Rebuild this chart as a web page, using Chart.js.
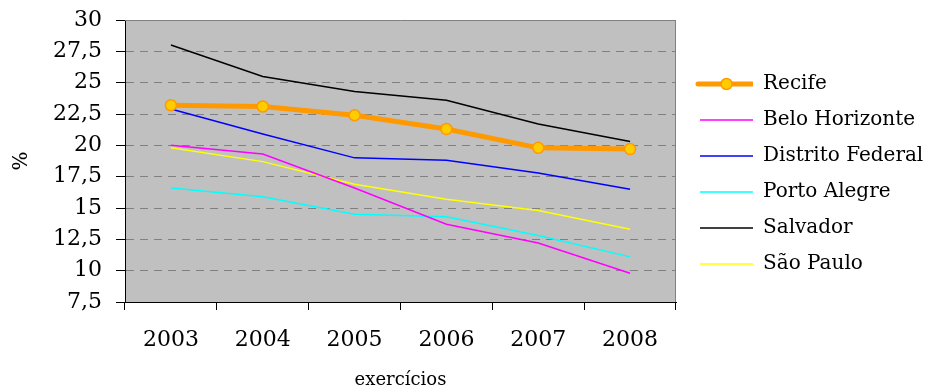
<!DOCTYPE html>
<html>
<head>
<meta charset="utf-8">
<script src="https://cdn.jsdelivr.net/npm/chart.js@4/dist/chart.umd.min.js"></script>
<style>
  html, body { margin: 0; padding: 0; background: #fff; }
  #wrap { width: 943px; height: 391px; position: relative; }
</style>
</head>
<body>
<div id="wrap"><canvas id="chart" width="943" height="391"></canvas></div>
<script>
// Years on the x axis
const years = ['2003', '2004', '2005', '2006', '2007', '2008'];

// Share (%) per city and year
const recife          = [23.2, 23.1, 22.4, 21.3, 19.8, 19.7];
const beloHorizonte   = [20.0, 19.3, 16.6, 13.7, 12.2, 9.8];
const distritoFederal = [22.9, 20.9, 19.0, 18.8, 17.8, 16.5];
const portoAlegre     = [16.6, 15.9, 14.5, 14.3, 12.8, 11.1];
const salvador        = [28.0, 25.5, 24.3, 23.6, 21.7, 20.3];
const saoPaulo        = [19.8, 18.7, 16.9, 15.7, 14.8, 13.3];

// Value axis ticks
const yTicks = [7.5, 10, 12.5, 15, 17.5, 20, 22.5, 25, 27.5, 30];

const FONT = '"DejaVu Serif", "Liberation Serif", serif';
Chart.defaults.font.family = FONT;
Chart.defaults.color = '#000';

const LEGEND_FONT = 20;
const LEGEND_PAD = 16;
const SWATCH_W = 61;
const PLOT_RIGHT = 676;
// Legend box width used for layout; its labels run on to the right edge
const LEGEND_BOX = 200;
const rightPad = 943 - PLOT_RIGHT - LEGEND_BOX;

// Small canvas swatches used as legend symbols
function makeSwatch(color, width, marker) {
  const c = document.createElement('canvas');
  c.width = SWATCH_W; c.height = 14;
  const g = c.getContext('2d');
  g.strokeStyle = color;
  g.lineWidth = width;
  g.lineCap = marker ? 'round' : 'butt';
  g.beginPath();
  g.moveTo(marker ? 6 : 8, 7);
  g.lineTo(marker ? SWATCH_W - 1 : SWATCH_W, 7);
  g.stroke();
  if (marker) {
    g.beginPath();
    g.arc(8 + 26.5, 7, 5.5, 0, Math.PI * 2);
    g.fillStyle = '#FFCC00';
    g.fill();
    g.lineWidth = 1.5;
    g.strokeStyle = '#FF9900';
    g.stroke();
  }
  return c;
}

const series = [
  { label: 'Recife', data: recife, color: '#FF9900', width: 5, marker: true },
  { label: 'Belo Horizonte', data: beloHorizonte, color: '#FF00FF', width: 1.5 },
  { label: 'Distrito Federal', data: distritoFederal, color: '#0000FF', width: 1.5 },
  { label: 'Porto Alegre', data: portoAlegre, color: '#00FFFF', width: 1.5 },
  { label: 'Salvador', data: salvador, color: '#000000', width: 1.5 },
  { label: 'São Paulo', data: saoPaulo, color: '#FFFF00', width: 1.5 }
];
const swatches = series.map(s => makeSwatch(s.color, s.width, s.marker));

// Grey plot background with a thin grey frame on top and right
const plotFrame = {
  id: 'plotFrame',
  afterLayout(chart) {
    // let the legend labels use the space up to the canvas edge
    const l = chart.legend;
    if (l) { l.right = chart.width; l.width = l.right - l.left; }
  },
  beforeDraw(chart) {
    const { ctx, chartArea: a } = chart;
    ctx.save();
    ctx.fillStyle = '#C0C0C0';
    ctx.fillRect(a.left, a.top, a.right - a.left, a.bottom - a.top);
    ctx.restore();
  },
  beforeDatasetsDraw(chart) {
    const { ctx, chartArea: a } = chart;
    ctx.save();
    ctx.strokeStyle = '#808080';
    ctx.lineWidth = 1;
    ctx.beginPath();
    ctx.moveTo(a.left, a.top + 0.5);
    ctx.lineTo(a.right - 0.5, a.top + 0.5);
    ctx.lineTo(a.right - 0.5, a.bottom);
    ctx.stroke();
    ctx.restore();
  }
};

new Chart(document.getElementById('chart'), {
  type: 'line',
  data: {
    labels: years,
    datasets: series.map(s => ({
      label: s.label,
      data: s.data,
      borderColor: s.color,
      backgroundColor: s.color,
      borderWidth: s.width,
      tension: 0,
      fill: false,
      pointRadius: s.marker ? 5.5 : 0,
      pointHoverRadius: s.marker ? 5.5 : 0,
      pointBackgroundColor: '#FFCC00',
      pointBorderColor: '#FF9900',
      pointBorderWidth: 1.5
    }))
  },
  options: {
    responsive: false,
    animation: false,
    events: [],
    layout: { padding: { top: 20, left: 0, bottom: 0, right: rightPad } },
    plugins: {
      tooltip: { enabled: false },
      legend: {
        position: 'right',
        align: 'start',
        maxWidth: LEGEND_BOX,
        title: { display: true, text: ' ', font: { size: 10, lineHeight: 1.2 }, padding: 13 },
        labels: {
          usePointStyle: true,
          pointStyleWidth: SWATCH_W,
          boxWidth: SWATCH_W,
          boxHeight: LEGEND_FONT,
          padding: LEGEND_PAD,
          color: '#000',
          font: { size: LEGEND_FONT, family: FONT },
          generateLabels: chart => chart.data.datasets.map((ds, i) => ({
            text: ds.label,
            pointStyle: swatches[i],
            fillStyle: ds.borderColor,
            strokeStyle: ds.borderColor,
            lineWidth: 0,
            hidden: false,
            datasetIndex: i
          }))
        }
      }
    },
    scales: {
      x: {
        type: 'category',
        offset: true,
        afterFit(scale) { scale.height = 89; },
        grid: {
          display: true,
          offset: true,
          drawOnChartArea: false,
          drawTicks: true,
          tickLength: 8,
          tickColor: '#000',
          color: '#000'
        },
        border: { display: true, color: '#000', width: 1 },
        ticks: { padding: 17, font: { size: 22 }, color: '#000', maxRotation: 0 },
        title: {
          display: true,
          text: 'exercícios',
          font: { size: 18, lineHeight: 1.2 },
          color: '#000',
          padding: { top: 0, bottom: 0 }
        }
      },
      y: {
        min: 7.5,
        max: 30,
        afterFit(scale) { scale.width = 125; },
        afterBuildTicks(scale) { scale.ticks = yTicks.map(v => ({ value: v })); },
        grid: {
          color: '#808080',
          lineWidth: 1,
          tickLength: 9,
          tickColor: '#000',
          tickBorderDash: []
        },
        border: { display: true, color: '#000', width: 1, dash: [8, 6] },
        ticks: {
          padding: 14,
          font: { size: 22, lineHeight: 0.4 },
          color: '#000',
          callback: v => String(v).replace('.', ',')
        },
        title: {
          display: true,
          text: '%',
          font: { size: 20, lineHeight: 1.2 },
          color: '#000',
          padding: { top: 10, bottom: 0 }
        }
      }
    }
  },
  plugins: [plotFrame]
});
</script>
</body>
</html>
